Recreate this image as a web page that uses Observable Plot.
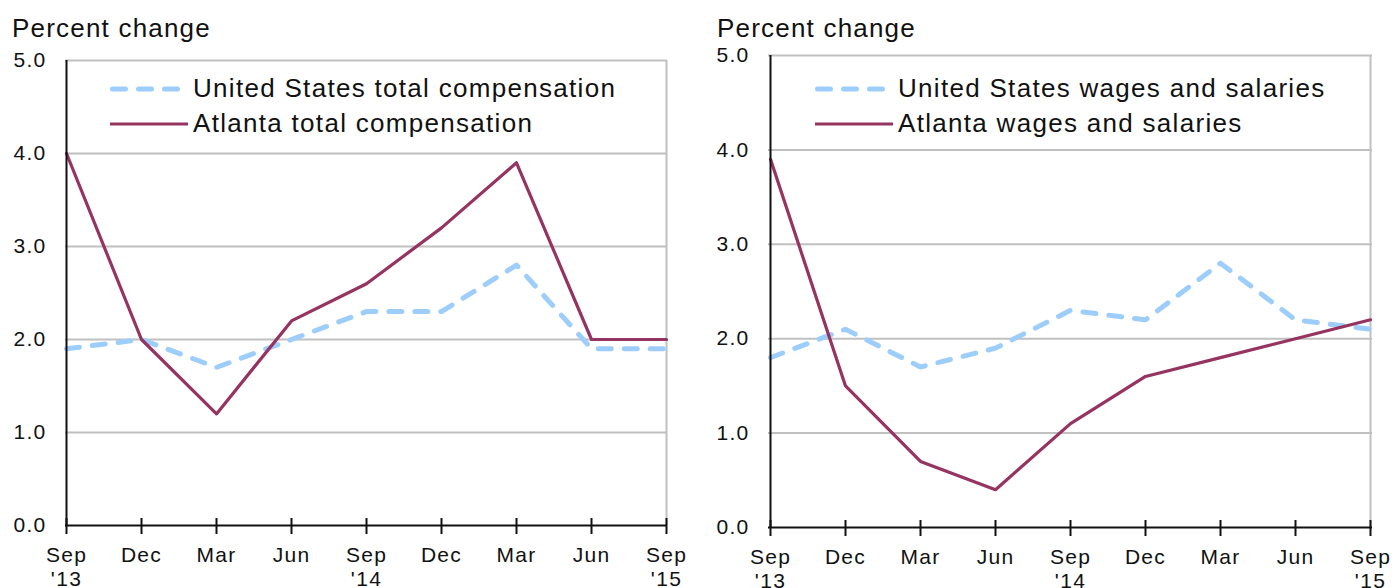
<!DOCTYPE html>
<html>
<head>
<meta charset="utf-8">
<script src="https://cdn.jsdelivr.net/npm/d3@7"></script>
<script src="https://cdn.jsdelivr.net/npm/@observablehq/plot@0.6"></script>
<style>
  body { margin: 0; background: #fff; }
  #wrap { position: relative; width: 1396px; height: 588px; overflow: hidden; font-family: "Liberation Sans", Arial, sans-serif; color: #111; }
  .panel { position: absolute; top: 0; }
  .title { position: absolute; font-size: 26px; line-height: 26px; letter-spacing: 1.2px; white-space: nowrap; }
  .legend { position: absolute; font-size: 26px; letter-spacing: 1.3px; white-space: nowrap; }
  .legend .row { display: flex; align-items: center; height: 35px; }
  .legend svg { flex: none; width: 83px; height: 12px; }
</style>
</head>
<body>
<div id="wrap"></div>
<script>
// ---- data ----
const quarters = ["Sep '13", "Dec '13", "Mar '14", "Jun '14", "Sep '14", "Dec '14", "Mar '15", "Jun '15", "Sep '15"];
const tickLabels = ["Sep\n'13", "Dec", "Mar", "Jun", "Sep\n'14", "Dec", "Mar", "Jun", "Sep\n'15"];
const yTicks = [0, 1, 2, 3, 4, 5];

const usTotalComp = [1.9, 2.0, 1.7, 2.0, 2.3, 2.3, 2.8, 1.9, 1.9];
const atlTotalComp = [4.0, 2.0, 1.2, 2.2, 2.6, 3.2, 3.9, 2.0, 2.0];
const usWages = [1.8, 2.1, 1.7, 1.9, 2.3, 2.2, 2.8, 2.2, 2.1];
const atlWages = [3.9, 1.5, 0.7, 0.4, 1.1, 1.6, 1.8, 2.0, 2.2];

const seriesNamesLeft = ["United States total compensation", "Atlanta total compensation"];
const seriesNamesRight = ["United States wages and salaries", "Atlanta wages and salaries"];
const yTitle = "Percent change";

const US_COLOR = "#9dcdfb";
const ATL_COLOR = "#953361";
const GRID = "#c0c0c0";

function chart(usVals, atlVals, m) {
  const us = quarters.map((q, i) => ({q, v: usVals[i]}));
  const atl = quarters.map((q, i) => ({q, v: atlVals[i]}));
  return Plot.plot({
    width: 698, height: 588,
    marginLeft: m.left, marginRight: m.right, marginTop: m.top, marginBottom: m.bottom,
    style: {fontFamily: '"Liberation Sans", Arial, sans-serif', fontSize: "21px", color: "#111", letterSpacing: "1.3px", background: "transparent", overflow: "visible"},
    x: {type: "point", domain: quarters, padding: 0, label: null},
    y: {domain: [0, 5], label: null},
    marks: [
      Plot.ruleY(yTicks.filter(d => d > 0), {stroke: GRID, strokeWidth: 2}),
      Plot.ruleX([quarters[quarters.length - 1]], {stroke: GRID, strokeWidth: 2}),
      Plot.lineY(us, {x: "q", y: "v", stroke: US_COLOR, strokeWidth: 5, strokeDasharray: "13,13", strokeLinecap: "round", strokeLinejoin: "round"}),
      Plot.lineY(atl, {x: "q", y: "v", stroke: ATL_COLOR, strokeWidth: 3.2, strokeLinejoin: "round"}),
      Plot.ruleY([0], {stroke: "#111", strokeWidth: 2}),
      Plot.ruleX([quarters[0]], {stroke: "#111", strokeWidth: 2}),
      Plot.axisY({ticks: yTicks, tickSize: 0, tickPadding: 19, tickFormat: d => d.toFixed(1), fontSize: 21}),
      Plot.axisX({ticks: quarters, tickSize: 16, dy: -7, tickFormat: () => "", stroke: "#111", strokeWidth: 2}),
      Plot.axisX({ticks: quarters, tickSize: 0, tickPadding: 19, tickFormat: d => tickLabels[quarters.indexOf(d)], lineHeight: 1.15, fontSize: 21})
    ]
  });
}

function legend(names) {
  const div = document.createElement("div");
  div.className = "legend";
  div.innerHTML = `
    <div class="row"><svg><line x1="2.5" x2="67.5" y1="6" y2="6" stroke="${US_COLOR}" stroke-width="5" stroke-dasharray="13,13" stroke-linecap="round"/></svg><span>${names[0]}</span></div>
    <div class="row"><svg><line x1="0" x2="78" y1="6" y2="6" stroke="${ATL_COLOR}" stroke-width="3.2"/></svg><span>${names[1]}</span></div>`;
  return div;
}

const wrap = document.getElementById("wrap");

const leftPanel = document.createElement("div");
leftPanel.className = "panel"; leftPanel.style.left = "0px";
leftPanel.appendChild(chart(usTotalComp, atlTotalComp, {left: 65, right: 31, top: 60, bottom: 63}));
wrap.appendChild(leftPanel);

const rightPanel = document.createElement("div");
rightPanel.className = "panel"; rightPanel.style.left = "698px";
rightPanel.appendChild(chart(usWages, atlWages, {left: 70, right: 24, top: 55, bottom: 61}));
wrap.appendChild(rightPanel);

for (const [x] of [[12], [717]]) {
  const t = document.createElement("div");
  t.className = "title"; t.textContent = yTitle;
  t.style.left = x + "px"; t.style.top = "15px";
  wrap.appendChild(t);
}

const lg1 = legend(seriesNamesLeft); lg1.style.left = "110px"; lg1.style.top = "71px"; wrap.appendChild(lg1);
const lg2 = legend(seriesNamesRight); lg2.style.left = "815px"; lg2.style.top = "71px"; wrap.appendChild(lg2);
</script>
</body>
</html>
